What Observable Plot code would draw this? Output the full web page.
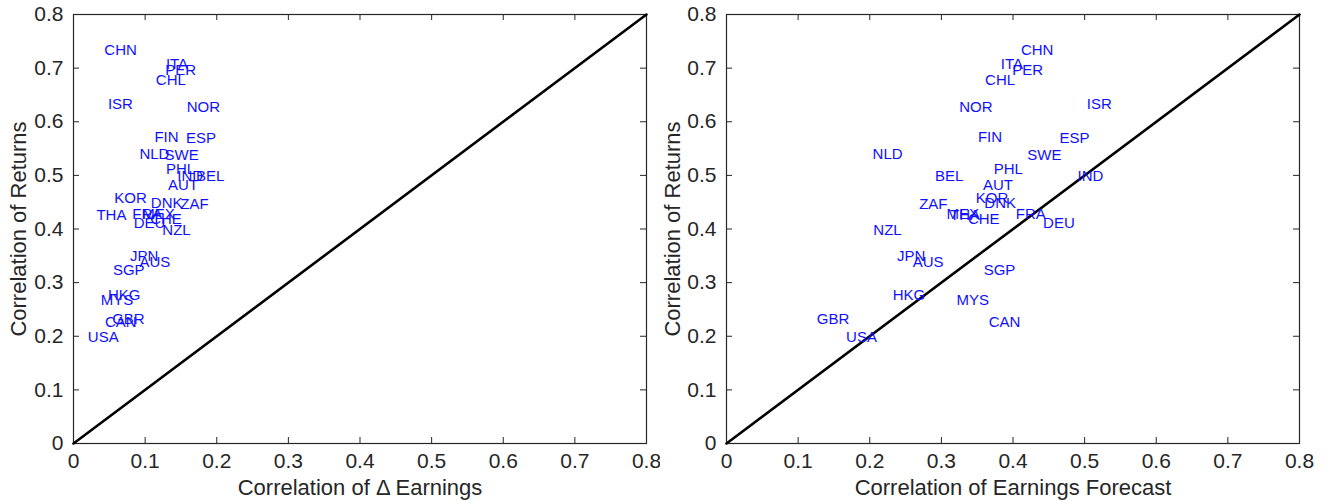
<!DOCTYPE html>
<html>
<head>
<meta charset="utf-8">
<script src="https://cdn.jsdelivr.net/npm/d3@7"></script>
<script src="https://cdn.jsdelivr.net/npm/@observablehq/plot@0.6"></script>
<style>
  html, body { margin: 0; padding: 0; background: #fff; }
  #wrap { position: relative; width: 1340px; height: 501px; overflow: hidden; }
  #wrap > div { position: absolute; top: 0; }
  svg { font-family: "Liberation Sans", Arial, Helvetica, sans-serif; }
</style>
</head>
<body>
<div id="wrap"><div id="left" style="left:0"></div><div id="right" style="left:660px"></div></div>
<script>
const countries = ["CHN","ITA","PER","CHL","ISR","NOR","FIN","ESP","NLD","SWE","PHL","IND","BEL","AUT","KOR","DNK","ZAF","THA","FRA","MEX","CHE","DEU","NZL","JPN","AUS","SGP","HKG","MYS","GBR","CAN","USA"];
const corrReturns = [0.733,0.708,0.696,0.677,0.632,0.627,0.571,0.570,0.540,0.537,0.511,0.499,0.498,0.481,0.458,0.449,0.447,0.425,0.428,0.427,0.418,0.410,0.397,0.350,0.338,0.323,0.277,0.267,0.232,0.226,0.198];
const corrDeltaEarnings = [0.043,0.129,0.128,0.115,0.048,0.158,0.113,0.157,0.092,0.127,0.129,0.145,0.171,0.132,0.057,0.108,0.149,0.032,0.082,0.096,0.107,0.084,0.124,0.079,0.092,0.055,0.048,0.038,0.054,0.044,0.020];
const corrForecast = [0.411,0.383,0.399,0.361,0.503,0.325,0.351,0.465,0.204,0.420,0.373,0.490,0.291,0.358,0.348,0.360,0.269,0.312,0.404,0.307,0.337,0.442,0.205,0.238,0.260,0.359,0.232,0.321,0.126,0.366,0.167];
const axisTicks = [0,0.1,0.2,0.3,0.4,0.5,0.6,0.7,0.8];
const diagonal = [0, 0.8];
const xTitles = ["Correlation of \u0394 Earnings", "Correlation of Earnings Forecast"];
const yTitle = "Correlation of Returns";

const fmt = d => d === 0 ? "0" : d3.format(".1f")(d);
const H = 429, FRAME = "#262626", TICK = 6;

function panel(xs, xTitle, opts) {
  const data = countries.map((c, i) => ({c, x: xs[i], y: corrReturns[i]}));
  const plotW = opts.width - opts.marginLeft - opts.marginRight;
  return Plot.plot({
    width: opts.width, height: 501,
    marginLeft: opts.marginLeft, marginRight: opts.marginRight,
    marginTop: 14, marginBottom: 58,
    style: {fontFamily: '"Liberation Sans", Arial, Helvetica, sans-serif', background: "#fff"},
    x: {domain: [0, 0.8]},
    y: {domain: [0, 0.8]},
    marks: [
      Plot.tickX(axisTicks, {x: d => d, insetTop: H - TICK, stroke: FRAME}),
      Plot.tickX(axisTicks, {x: d => d, insetBottom: H - TICK, stroke: FRAME}),
      Plot.tickY(axisTicks, {y: d => d, insetRight: plotW - TICK, stroke: FRAME}),
      Plot.tickY(axisTicks, {y: d => d, insetLeft: plotW - TICK, stroke: FRAME}),
      Plot.frame({stroke: FRAME, strokeWidth: 1.2}),
      Plot.axisX({ticks: axisTicks, tickFormat: fmt, tickSize: 0, tickPadding: 10, fontSize: 21, fill: "#262626", label: null}),
      Plot.axisY({ticks: axisTicks, tickFormat: fmt, tickSize: 0, tickPadding: 10, fontSize: 21, fill: "#262626", label: null}),
      Plot.text([xTitle], {text: d => d, frameAnchor: "bottom", dy: 44, textAnchor: "middle", lineAnchor: "middle", fontSize: 22, fill: "#262626"}),
      Plot.text([yTitle], {text: d => d, frameAnchor: "left", dx: opts.yTitleDx, rotate: -90, textAnchor: "middle", lineAnchor: "middle", fontSize: 22, fill: "#262626"}),
      Plot.line(diagonal, {x: d => d, y: d => d, stroke: "black", strokeWidth: 2.6}),
      Plot.text(data, {x: "x", y: "y", text: "c", textAnchor: "start", fill: "#1010ff", fontSize: 15})
    ]
  });
}

document.getElementById("left").append(panel(corrDeltaEarnings, xTitles[0], {width: 660, marginLeft: 73, marginRight: 14, yTitleDx: -55}));
document.getElementById("right").append(panel(corrForecast, xTitles[1], {width: 680, marginLeft: 66, marginRight: 41, yTitleDx: -54}));
</script>
</body>
</html>
